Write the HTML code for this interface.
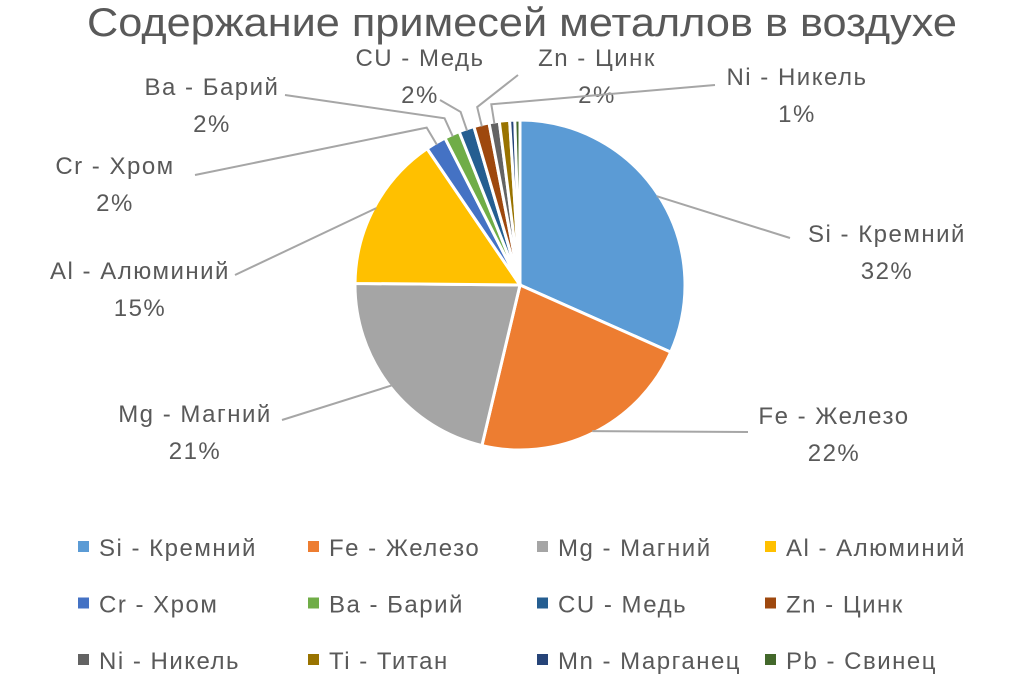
<!DOCTYPE html>
<html><head><meta charset="utf-8"><style>
body{margin:0;background:#fff;width:1024px;height:681px;overflow:hidden;font-family:"Liberation Sans",sans-serif}
text{font-family:"Liberation Sans",sans-serif;fill:#595959}
</style></head><body>
<svg id="c" width="1024" height="681">
<text x="522" y="36" font-size="40" text-anchor="middle" textLength="870" lengthAdjust="spacingAndGlyphs">Содержание примесей металлов в воздухе</text>
<g id="pie"></g><g id="lbl"></g><g id="leg"></g>
</svg>
<script>
const categories=["Si - Кремний","Fe - Железо","Mg - Магний","Al - Алюминий","Cr - Хром","Ba - Барий","CU - Медь","Zn - Цинк","Ni - Никель","Ti - Титан","Mn - Марганец","Pb - Свинец"];
const values=[31.6,22,21.4,15.3,2,1.5,1.5,1.5,1,1,0.5,0.5];
const percentLabels=["32%","22%","21%","15%","2%","2%","2%","2%","1%","","",""];
const colors=["#5b9bd5","#ed7d31","#a5a5a5","#ffc000","#4472c4","#70ad47","#255e91","#9e480e","#636363","#997300","#264478","#43682b"];
const labelPos=[[887,242],[834,424],[195,422],[140,279],[115,174],[212,95],[420,66],[597,66],[797,85]];
const labelAnchor=[[790,238],[748,432],[282,420],[235,275],[195,175],[285,95],[440,100],[518,75],[715,85]];
const NS="http://www.w3.org/2000/svg";
const cx=520,cy=285,R=165;
const total=values.reduce((a,b)=>a+b,0);
const pie=document.getElementById('pie'),lbl=document.getElementById('lbl'),leg=document.getElementById('leg');
function pt(a,r){return [cx+r*Math.sin(a),cy-r*Math.cos(a)];}
let acc=0;
values.forEach((v,i)=>{
 const a0=acc/total*2*Math.PI;acc+=v;const a1=acc/total*2*Math.PI;
 const p0=pt(a0,R),p1=pt(a1,R);
 const p=document.createElementNS(NS,'path');
 p.setAttribute('d',`M${cx},${cy}L${p0[0]},${p0[1]}A${R},${R} 0 ${a1-a0>Math.PI?1:0} 1 ${p1[0]},${p1[1]}Z`);
 p.setAttribute('fill',colors[i]);p.setAttribute('stroke','#fff');p.setAttribute('stroke-width','3');
 
 
 pie.appendChild(p);
 if(i<labelPos.length){
  const am=(a0+a1)/2,s=pt(am,R-2),l=labelAnchor[i];
  const ln=document.createElementNS(NS,'polyline');
  const mid=pt(am,R+18);
  ln.setAttribute('points',`${s[0]},${s[1]} ${i>=4&&i<=8?mid[0]+','+mid[1]:''} ${l[0]},${l[1]}`);
  ln.setAttribute('fill','none');ln.setAttribute('stroke','#a6a6a6');ln.setAttribute('stroke-width','2');
  
  
  lbl.appendChild(ln);
  const t=document.createElementNS(NS,'text');
  t.setAttribute('x',labelPos[i][0]);t.setAttribute('y',labelPos[i][1]);
  t.setAttribute('font-size','24');t.setAttribute('letter-spacing','1.5');t.setAttribute('text-anchor','middle');
  
  
  t.innerHTML=`<tspan x="${labelPos[i][0]}">${categories[i]}</tspan><tspan x="${labelPos[i][0]}" dy="37">${percentLabels[i]}</tspan>`;
  lbl.appendChild(t);
 }
 const col=i%4,row=Math.floor(i/4);
 const lx=[78,308,537,765][col],ly=547+row*56.5;
 const g=document.createElementNS(NS,'g');
 
 
 const r=document.createElementNS(NS,'rect');
 r.setAttribute('x',lx);r.setAttribute('y',ly-6);r.setAttribute('width',11);r.setAttribute('height',11);r.setAttribute('fill',colors[i]);
 const tt=document.createElementNS(NS,'text');
 tt.setAttribute('x',lx+21);tt.setAttribute('y',ly+9);tt.setAttribute('font-size','24');tt.setAttribute('letter-spacing','1.5');tt.textContent=categories[i];
 g.appendChild(r);g.appendChild(tt);leg.appendChild(g);
});
</script>
</body></html>
